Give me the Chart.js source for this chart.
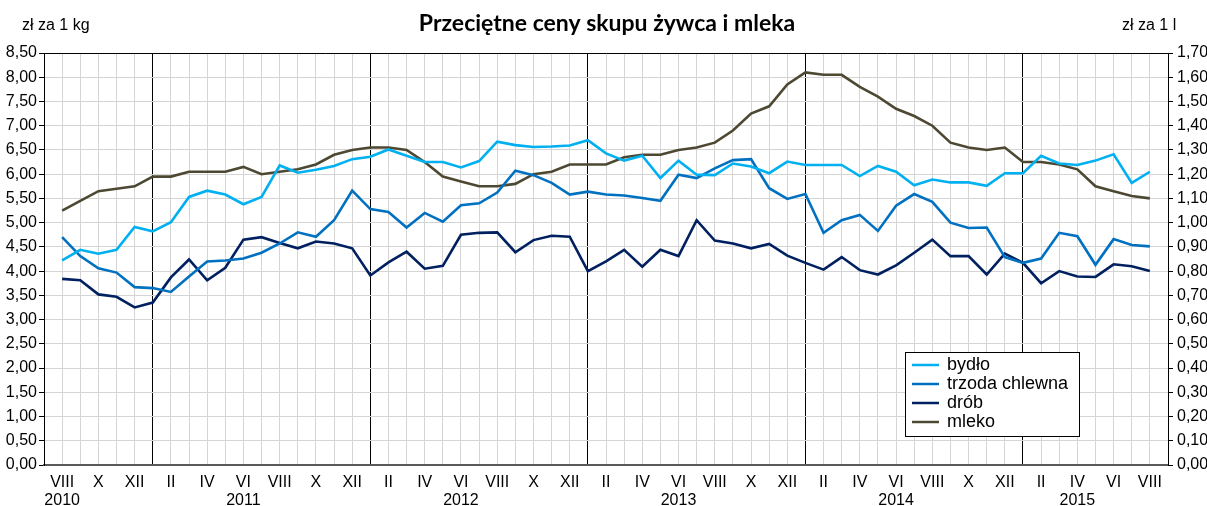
<!DOCTYPE html>
<html>
<head>
<meta charset="utf-8">
<script src="https://cdn.jsdelivr.net/npm/chart.js@4/dist/chart.umd.min.js"></script>
<style>
  html, body { margin: 0; padding: 0; background: #fff; }
  #wrap { width: 1207px; height: 506px; }
</style>
</head>
<body>
<div id="wrap"><canvas id="chart" width="1207" height="506"></canvas></div>
<script>
// months VIII 2010 .. VIII 2015
const months = [
  'VIII','IX','X','XI','XII',
  'I','II','III','IV','V','VI','VII','VIII','IX','X','XI','XII',
  'I','II','III','IV','V','VI','VII','VIII','IX','X','XI','XII',
  'I','II','III','IV','V','VI','VII','VIII','IX','X','XI','XII',
  'I','II','III','IV','V','VI','VII','VIII','IX','X','XI','XII',
  'I','II','III','IV','V','VI','VII','VIII'
];
const years = ['2010', '2011', '2012', '2013', '2014', '2015'];
const yearAt = [0, 10, 22, 34, 46, 56];

// zł za 1 kg
const bydlo = [
  4.22, 4.44, 4.36, 4.44, 4.91,
  4.82, 5.01, 5.53, 5.66, 5.58, 5.38, 5.53, 6.18, 6.03, 6.09, 6.17, 6.31,
  6.36, 6.51, 6.38, 6.25, 6.25, 6.14, 6.27, 6.67, 6.60, 6.56, 6.57, 6.59,
  6.70, 6.43, 6.28, 6.38, 5.92, 6.28, 5.99, 5.98, 6.22, 6.16, 6.02, 6.26,
  6.19, 6.19, 6.19, 5.96, 6.17, 6.05, 5.77, 5.89, 5.83, 5.83, 5.76, 6.02,
  6.02, 6.38, 6.22, 6.19, 6.28, 6.41, 5.82, 6.05
];
const trzoda = [
  4.70, 4.31, 4.06, 3.97, 3.67,
  3.65, 3.57, 3.89, 4.20, 4.22, 4.26, 4.38, 4.57, 4.80, 4.71, 5.05, 5.66,
  5.28, 5.22, 4.90, 5.20, 5.02, 5.36, 5.40, 5.62, 6.07, 5.98, 5.82, 5.58,
  5.64, 5.58, 5.56, 5.51, 5.45, 5.99, 5.92, 6.12, 6.29, 6.31, 5.71, 5.49,
  5.59, 4.79, 5.05, 5.16, 4.83, 5.35, 5.59, 5.43, 5.00, 4.89, 4.90, 4.29,
  4.17, 4.26, 4.79, 4.72, 4.13, 4.66, 4.54, 4.51
];
const drob = [
  3.84, 3.81, 3.52, 3.47, 3.25,
  3.35, 3.87, 4.24, 3.81, 4.07, 4.65, 4.70, 4.58, 4.47, 4.61, 4.57, 4.47,
  3.91, 4.18, 4.40, 4.05, 4.11, 4.75, 4.79, 4.80, 4.39, 4.64, 4.73, 4.71,
  4.00, 4.20, 4.44, 4.09, 4.44, 4.31, 5.05, 4.63, 4.57, 4.47, 4.56, 4.32,
  4.17, 4.03, 4.29, 4.02, 3.93, 4.12, 4.38, 4.65, 4.31, 4.31, 3.93, 4.36,
  4.17, 3.75, 4.00, 3.89, 3.88, 4.14, 4.10, 4.00
];
// zł za 1 l
const mleko = [
  1.05, 1.09, 1.13, 1.14, 1.15,
  1.19, 1.19, 1.21, 1.21, 1.21, 1.23, 1.20, 1.21, 1.22, 1.24, 1.28, 1.30,
  1.31, 1.31, 1.30, 1.25, 1.19, 1.17, 1.15, 1.15, 1.16, 1.20, 1.21, 1.24,
  1.24, 1.24, 1.27, 1.28, 1.28, 1.30, 1.31, 1.33, 1.38, 1.45, 1.48, 1.57,
  1.62, 1.61, 1.61, 1.56, 1.52, 1.47, 1.44, 1.40, 1.33, 1.31, 1.30, 1.31,
  1.25, 1.25, 1.24, 1.22, 1.15, 1.13, 1.11, 1.10
];

const seriesNames = ['bydło', 'trzoda chlewna', 'drób', 'mleko'];
const seriesColors = ['#00b0f0', '#0070c0', '#002060', '#4d4832'];

const FONT = 'Liberation Sans, Arial, sans-serif';

// one empty slot on each side, like the original plot
const labels = [''].concat(months, ['']);
const pad = arr => [null].concat(arr, [null]);

const comma = v => Number(v).toFixed(2).replace('.', ',');

const extras = {
  id: 'extras',
  afterDraw(chart) {
    const ctx = chart.ctx;
    ctx.save();
    ctx.fillStyle = '#000';
    ctx.textBaseline = 'alphabetic';
    ctx.font = 'bold 23px Lato, sans-serif';
    ctx.textAlign = 'center';
    ctx.fillText('Przeciętne ceny skupu żywca i mleka', 607, 31);
    ctx.font = '16px ' + FONT;
    ctx.textAlign = 'left';
    ctx.fillText('zł za 1 kg', 22, 30);
    ctx.fillText('zł za 1 l', 1122, 30);

    // legend box
    const bx = 905, by = 352, bw = 174, bh = 84;
    ctx.fillStyle = '#fff';
    ctx.fillRect(bx, by, bw, bh);
    ctx.strokeStyle = '#000';
    ctx.lineWidth = 1;
    ctx.strokeRect(bx + 0.5, by + 0.5, bw, bh);
    ctx.font = '18px ' + FONT;
    ctx.textBaseline = 'middle';
    chart.data.datasets.forEach((ds, i) => {
      const y = by + 13 + i * 19;
      ctx.strokeStyle = ds.borderColor;
      ctx.lineWidth = 2.5;
      ctx.beginPath();
      ctx.moveTo(bx + 7, y);
      ctx.lineTo(bx + 34, y);
      ctx.stroke();
      ctx.fillStyle = '#000';
      ctx.fillText(ds.label, bx + 42, y);
    });
    ctx.restore();
  }
};

new Chart(document.getElementById('chart'), {
  type: 'line',
  data: {
    labels: labels,
    datasets: [
      { label: seriesNames[0], data: pad(bydlo), borderColor: seriesColors[0], yAxisID: 'y' },
      { label: seriesNames[1], data: pad(trzoda), borderColor: seriesColors[1], yAxisID: 'y' },
      { label: seriesNames[2], data: pad(drob), borderColor: seriesColors[2], yAxisID: 'y' },
      { label: seriesNames[3], data: pad(mleko), borderColor: seriesColors[3], yAxisID: 'y1' }
    ]
  },
  options: {
    responsive: false,
    animation: false,
    layout: { padding: { top: 53, left: 0, right: 0, bottom: 0 } },
    elements: {
      point: { radius: 0 },
      line: { borderWidth: 2.6, tension: 0 }
    },
    plugins: {
      legend: { display: false },
      title: { display: false },
      tooltip: { enabled: false }
    },
    scales: {
      x: {
        type: 'category',
        offset: false,
        afterFit: s => { s.height = 41; },
        border: { color: '#595959', width: 2 },
        grid: {
          drawTicks: false,
          lineWidth: 1,
          color: c => months[c.index - 1] === 'I' ? '#000' : '#d4d4d4'
        },
        ticks: {
          autoSkip: false,
          maxRotation: 0,
          padding: 9,
          color: '#000',
          font: { family: FONT, size: 16, lineHeight: 1.1 },
          callback: (v, index) => {
            const i = index - 1;
            if (i < 0 || i >= months.length || i % 2) return '';
            const k = yearAt.indexOf(i);
            return k >= 0 ? [months[i], years[k]] : months[i];
          }
        }
      },
      y: {
        position: 'left',
        min: 0,
        max: 8.5,
        afterFit: s => { s.width = 44; },
        border: { color: '#000', width: 1 },
        grid: {
          lineWidth: 1,
          tickLength: 5,
          tickColor: '#000',
          color: c => c.tick && c.tick.value === 8.5 ? '#000' : '#d4d4d4'
        },
        ticks: {
          stepSize: 0.5,
          padding: 2,
          color: '#000',
          font: { family: FONT, size: 16 },
          callback: v => comma(v)
        }
      },
      y1: {
        position: 'right',
        min: 0,
        max: 1.7,
        afterFit: s => { s.width = 39; },
        border: { color: '#000', width: 1 },
        grid: {
          drawOnChartArea: false,
          tickLength: 5,
          tickColor: '#000'
        },
        ticks: {
          stepSize: 0.1,
          padding: 4,
          color: '#000',
          font: { family: FONT, size: 16 },
          callback: v => comma(v)
        }
      }
    }
  },
  plugins: [extras]
});
</script>
</body>
</html>
